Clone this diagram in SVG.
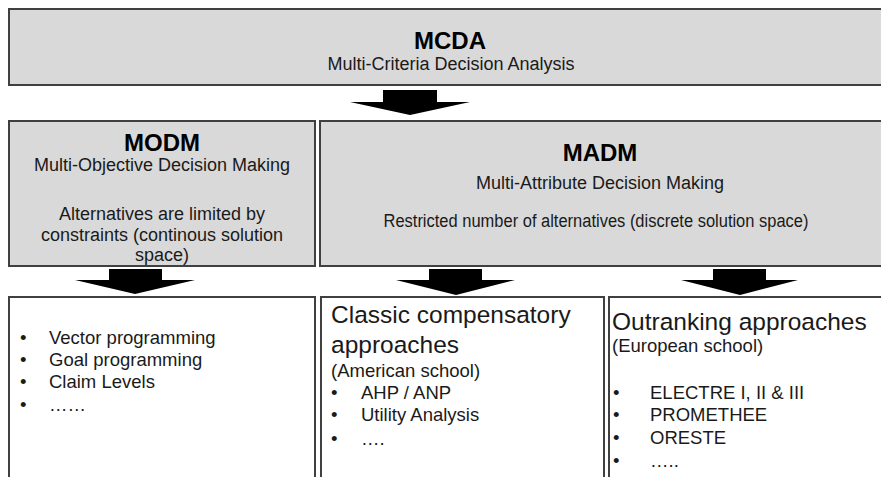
<svg xmlns="http://www.w3.org/2000/svg" width="881" height="477" viewBox="0 0 881 477">
<style>
.hb{fill:#d9d9d9;stroke:#404040;stroke-width:2}
.wb{fill:#ffffff;stroke:#404040;stroke-width:2}
text{font-family:"Liberation Sans",Arial,sans-serif;fill:#000}
.t{font-weight:bold;font-size:24px;text-anchor:middle}
.s{font-size:18px;text-anchor:middle;fill:#1a1a1a}
.b{font-size:18.5px;fill:#1a1a1a}
.h{font-size:24.5px;fill:#1a1a1a}
.arr{fill:#000}
</style>
<rect width="881" height="477" fill="#ffffff"/>
<g id="mcda">
<rect class="hb" x="9" y="9" width="880" height="76"/>
<text class="t" x="450" y="49">MCDA</text>
<text class="s" x="451" y="70">Multi-Criteria Decision Analysis</text>
</g>
<g id="modm">
<rect class="hb" x="9" y="121" width="306" height="145"/>
<text class="t" x="162" y="151">MODM</text>
<text class="s" x="162" y="171">Multi-Objective Decision Making</text>
<text class="s" x="162" y="220">Alternatives are limited by</text>
<text class="s" x="162" y="241">constraints (continous solution</text>
<text class="s" x="162" y="261">space)</text>
</g>
<g id="madm">
<rect class="hb" x="320" y="121" width="570" height="145"/>
<text class="t" x="600" y="161">MADM</text>
<text class="s" x="600" y="189">Multi-Attribute Decision Making</text>
<text class="s" x="596" y="227" textLength="425" lengthAdjust="spacingAndGlyphs">Restricted number of alternatives (discrete solution space)</text>
</g>
<g id="modm-methods">
<rect class="wb" x="9" y="297" width="306" height="200"/>
<text class="b" x="20" y="344">•</text><text class="b" x="49" y="344">Vector programming</text>
<text class="b" x="20" y="366">•</text><text class="b" x="49" y="366">Goal programming</text>
<text class="b" x="20" y="388">•</text><text class="b" x="49" y="388">Claim Levels</text>
<text class="b" x="20" y="411">•</text><text class="b" x="49" y="411">……</text>
</g>
<g id="classic">
<rect class="wb" x="321" y="297" width="283" height="200"/>
<text class="h" x="331" y="323">Classic compensatory</text>
<text class="h" x="331" y="353">approaches</text>
<text class="b" x="331" y="377">(American school)</text>
<text class="b" x="331" y="399">•</text><text class="b" x="361" y="399">AHP / ANP</text>
<text class="b" x="331" y="421">•</text><text class="b" x="361" y="421">Utility Analysis</text>
<text class="b" x="331" y="445">•</text><text class="b" x="361" y="445">….</text>
</g>
<g id="outranking">
<rect class="wb" x="609" y="297" width="281" height="200"/>
<text class="h" x="612" y="330">Outranking approaches</text>
<text class="b" x="612" y="352">(European school)</text>
<text class="b" x="613" y="399">•</text><text class="b" x="650" y="399">ELECTRE I, II &amp; III</text>
<text class="b" x="613" y="421">•</text><text class="b" x="650" y="421">PROMETHEE</text>
<text class="b" x="613" y="444">•</text><text class="b" x="650" y="444">ORESTE</text>
<text class="b" x="613" y="467">•</text><text class="b" x="650" y="467">…..</text>
</g>
<g id="connectors">
<polygon class="arr" points="383,90 437,90 437,102 470,102 410,115 350,102 383,102"/>
<polygon class="arr" points="109,269 162,269 162,280 195,280 135,294 75,280 109,280"/>
<polygon class="arr" points="429,269 482,269 482,280 515,280 456,295 396,280 429,280"/>
<polygon class="arr" points="713,269 766,269 766,280 798,280 740,295 681,280 713,280"/>
</g>
</svg>
